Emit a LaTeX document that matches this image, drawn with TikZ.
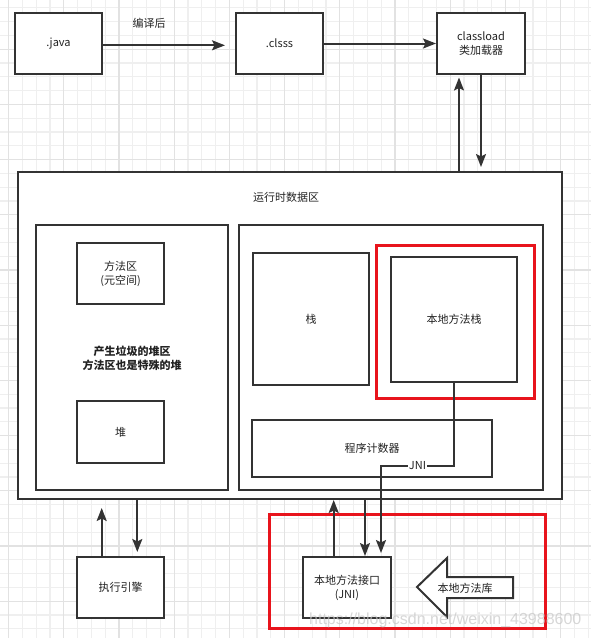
\documentclass[tikz,border=0pt]{standalone}
\usepackage{fontspec}
\newfontfamily\cjk{Noto Sans CJK SC}
\newfontfamily\wmfont{Liberation Sans}
\usetikzlibrary{arrows.meta}
\definecolor{linec}{HTML}{333333}
\definecolor{redc}{HTML}{E8141C}
\definecolor{gridminor}{HTML}{EFEFEF}
\definecolor{gridmajor}{HTML}{E2E2E2}
\definecolor{txt}{HTML}{222222}
\begin{document}
\begin{tikzpicture}[x=1pt,y=-1pt,
  box/.style={draw=linec, line width=2pt, fill=white, rectangle, inner sep=0pt, align=center, text=txt, font=\cjk\fontsize{11}{14}\selectfont},
  redbox/.style={draw=redc, line width=3pt, rectangle, inner sep=0pt},
  lbl/.style={text=txt, align=center, inner sep=1pt, font=\cjk\fontsize{11}{14}\selectfont},
  arr/.style={draw=linec, line width=2pt, -{Stealth[length=13pt,width=10pt,inset=2.5pt]}},
]
\useasboundingbox (0,0) rectangle (591,638);
\begin{scope}
\clip (0,0) rectangle (591,638);
\foreach \i in {0,...,42} \draw[gridminor, line width=1.2pt] ({8.5+13.8*\i},0) -- ({8.5+13.8*\i},638);
\foreach \i in {0,...,45} \draw[gridminor, line width=1.2pt] (0,{7.8+13.8*\i}) -- (591,{7.8+13.8*\i});
\foreach \i in {0,...,10} \draw[gridmajor, line width=1.2pt] ({8.5+55.2*\i},0) -- ({8.5+55.2*\i},638);
\foreach \i in {0,...,10} \draw[gridmajor, line width=1.2pt] (0,{49.2+55.2*\i}) -- (591,{49.2+55.2*\i});
\end{scope}

% top row
\node[box, minimum width=87pt, minimum height=61pt] (java) at (58.5,43.5) {.java};
\node[box, minimum width=87pt, minimum height=61pt] (clsss) at (279.5,43.5) {.clsss};
\node[box, minimum width=88pt, minimum height=61pt] (classload) at (481,43.5) {classload\\类加载器};
\node[lbl] (compiled) at (149,23) {编译后};

% runtime data area
\node[box, minimum width=544pt, minimum height=327pt] (outer) at (290,335.5) {};
\node[lbl] (rtlabel) at (286,197) {运行时数据区};

\node[box, minimum width=192pt, minimum height=265pt] (left) at (132,357.5) {};
\node[box, minimum width=87pt, minimum height=61pt] (method) at (120.5,273.5) {方法区\\(元空间)};
\node[lbl, font=\cjk\bfseries\fontsize{11}{14}\selectfont] (heaplabel) at (132,358) {产生垃圾的堆区\\方法区也是特殊的堆};
\node[box, minimum width=87pt, minimum height=62pt] (heap) at (120.5,432) {堆};

\node[box, minimum width=304pt, minimum height=265pt] (right) at (391,357.5) {};
\node[box, minimum width=116pt, minimum height=132pt] (stack) at (311,319) {栈};
\node[redbox, minimum width=158pt, minimum height=153pt] (red1) at (455,321.5) {};
\node[box, minimum width=126pt, minimum height=125pt] (nstack) at (454,319.5) {本地方法栈};
\node[box, minimum width=240pt, minimum height=57pt] (pc) at (372,448.5) {程序计数器};

% bottom
\node[box, minimum width=87pt, minimum height=61pt] (exec) at (120.5,587.5) {执行引擎};
\node[box, minimum width=88pt, minimum height=61pt] (jni) at (347,587.5) {本地方法接口\\(JNI)};
\node[redbox, minimum width=276pt, minimum height=114pt] (red2) at (407,571) {};
\draw[draw=linec, line width=2pt, fill=white, line join=miter]
  (417,587) -- (447,558) -- (447,577) -- (513,577) -- (513,598) -- (447,598) -- (447,617) -- cycle;
\node[lbl] (lib) at (465,588) {本地方法库};

% arrows
\coordinate (a1) at (0,45.3);
\draw[arr, shorten >=10pt] (java.east |- a1) -- (clsss.west |- a1);
\draw[arr] (clsss.east) -- (classload.west);
\coordinate (cu) at (459,0);
\draw[arr, shorten >=2.5pt] (outer.north -| cu) -- (classload.south -| cu);
\draw[arr, shorten >=4pt] (classload.south) -- (outer.north -| classload.south);

\coordinate (eu) at (101.7,0);
\draw[arr, shorten >=8pt] (exec.north -| eu) -- (outer.south -| eu);
\coordinate (ed) at (137.3,0);
\draw[arr, shorten >=4pt] (outer.south -| ed) -- (exec.north -| ed);
\coordinate (ju) at (333.7,0);
\draw[arr] (jni.north -| ju) -- (outer.south -| ju);
\coordinate (jd) at (365,0);
\draw[arr] (outer.south -| jd) -- (jni.north -| jd);
\coordinate (jk) at (381,466);
\draw[arr, shorten >=3pt] (nstack.south) |- (jk) node[lbl, pos=0.75, fill=white] (jnil) {JNI} -- (jni.north -| jk);

% watermark
\node[font=\wmfont\fontsize{16}{16}\selectfont, text=gray!45, opacity=0.7, anchor=west, inner sep=0pt] (wm) at (309,620) {https://blog.csdn.net/weixin\_43988600};
\end{tikzpicture}
\end{document}
